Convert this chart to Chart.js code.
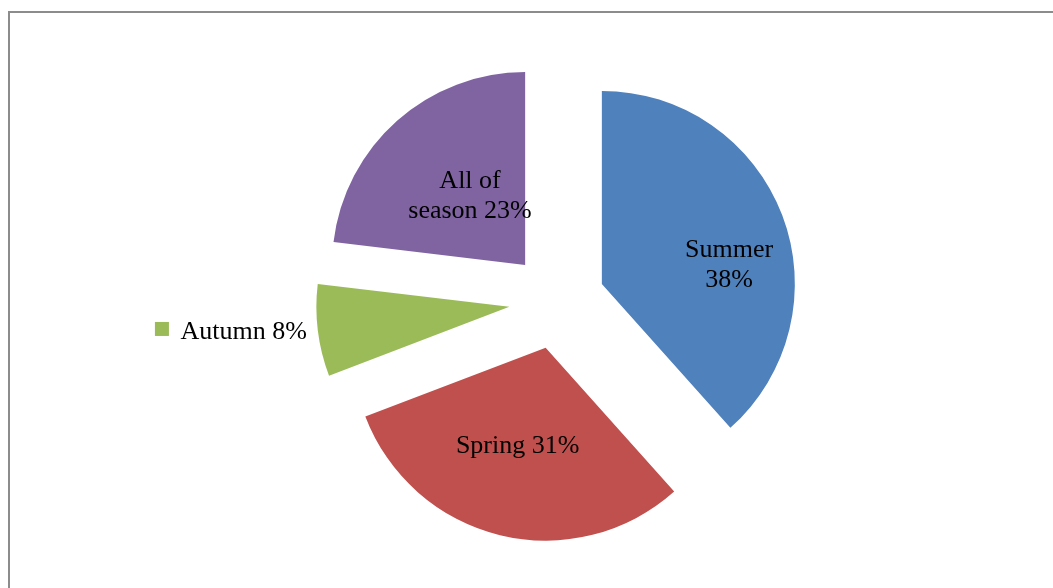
<!DOCTYPE html>
<html>
<head>
<meta charset="utf-8">
<script src="https://cdn.jsdelivr.net/npm/chart.js@4"></script>
<style>
  html, body { margin: 0; padding: 0; background: #fff; overflow: hidden; }
  #marco { position: absolute; left: 8px; top: 11px; width: 1080px; height: 620px;
           border-left: 2px solid #8c8c8c; border-top: 2px solid #8c8c8c; }
  #contenedor { position: absolute; left: 0; top: 0; width: 1053px; height: 588px; }
</style>
</head>
<body>
<div id="marco"></div>
<div id="contenedor"><canvas id="grafico"></canvas></div>
<script>
const estaciones = ['Summer', 'Spring', 'Autumn', 'All of season'];
const porcentajes = [38.4, 30.8, 7.7, 23.1];
const colores = ['#4F81BD', '#C0504D', '#9BBB59', '#8064A2'];

// colocacion de etiquetas (giro en grados respecto al angulo medio, radio como fraccion)
const giroEtiqueta = [11.8, 2.4, 0, 3.8];
const radioEtiqueta = [0.668, 0.524, 0, 0.466];
const etiquetaFuera = [false, false, true, false];

const EXPLOSION = 48;
const FUENTE = 26;
const INTERLINEA = 30;
const ANCHO_MAX = 128;

const pluginExplotar = {
  id: 'explotar',
  afterDatasetUpdate(chart, args) {
    args.meta.data.forEach(arc => {
      const medio = (arc.startAngle + arc.endAngle) / 2;
      arc.x += Math.cos(medio) * EXPLOSION;
      arc.y += Math.sin(medio) * EXPLOSION;
    });
  }
};

function partirLineas(ctx, texto, ancho) {
  const palabras = texto.split(' ');
  const lineas = [];
  let actual = '';
  palabras.forEach(p => {
    const prueba = actual ? actual + ' ' + p : p;
    if (actual && ctx.measureText(prueba).width > ancho) {
      lineas.push(actual);
      actual = p;
    } else {
      actual = prueba;
    }
  });
  lineas.push(actual);
  return lineas;
}

const pluginEtiquetas = {
  id: 'etiquetas',
  afterDatasetsDraw(chart) {
    const ctx = chart.ctx;
    const meta = chart.getDatasetMeta(0);
    ctx.save();
    ctx.font = `${FUENTE}px "Liberation Serif", "Times New Roman", serif`;
    ctx.fillStyle = '#000';
    meta.data.forEach((arc, i) => {
      const texto = `${estaciones[i]} ${Math.round(porcentajes[i])}%`;
      const medio = (arc.startAngle + arc.endAngle) / 2;
      const r = arc.outerRadius;
      if (etiquetaFuera[i]) {
        const px = arc.x + Math.cos(medio) * r;
        const py = arc.y + Math.sin(medio) * r;
        const derecha = px - 11;
        const ancho = ctx.measureText(texto).width;
        ctx.textAlign = 'right';
        ctx.textBaseline = 'alphabetic';
        ctx.fillText(texto, derecha, py + FUENTE * 0.33);
        ctx.fillStyle = colores[i];
        ctx.fillRect(derecha - ancho - 11.5 - 14, py - 8.5, 14, 14);
        ctx.fillStyle = '#000';
      } else {
        const ang = medio + giroEtiqueta[i] * Math.PI / 180;
        const cx = arc.x + Math.cos(ang) * r * radioEtiqueta[i];
        const cy = arc.y + Math.sin(ang) * r * radioEtiqueta[i];
        const lineas = partirLineas(ctx, texto, ANCHO_MAX);
        ctx.textAlign = 'center';
        ctx.textBaseline = 'alphabetic';
        lineas.forEach((linea, k) => {
          const base = cy - (lineas.length - 1) * INTERLINEA / 2 + k * INTERLINEA + FUENTE * 0.33;
          ctx.fillText(linea, cx, base);
        });
      }
    });
    ctx.restore();
  }
};

new Chart(document.getElementById('grafico'), {
  type: 'pie',
  data: {
    labels: estaciones,
    datasets: [{
      data: porcentajes,
      backgroundColor: colores,
      borderWidth: 0,
      radius: 193
    }]
  },
  options: {
    responsive: true,
    maintainAspectRatio: false,
    animation: false,
    layout: { padding: { left: 61, right: 0, top: 14, bottom: 0 } },
    plugins: {
      legend: { display: false },
      tooltip: { enabled: false }
    }
  },
  plugins: [pluginExplotar, pluginEtiquetas]
});
</script>
</body>
</html>
